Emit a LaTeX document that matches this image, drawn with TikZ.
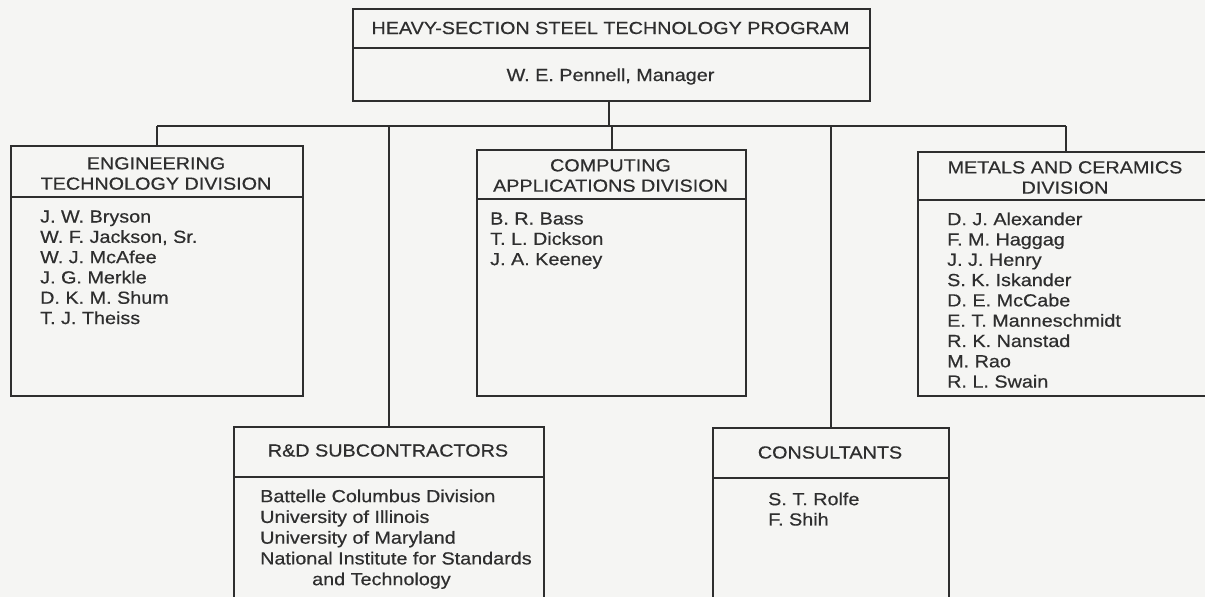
\documentclass[tikz,border=0pt]{standalone}
\usepackage{fontspec}
\setmainfont{Liberation Sans}[FakeStretch=1.13,FakeBold=0.5]
\definecolor{ink}{HTML}{2E2E2E}
\definecolor{paper}{HTML}{F5F5F3}
\begin{document}
\begin{tikzpicture}[x=1pt,y=-1pt,
  box/.style={draw=ink, line width=2pt, inner sep=0pt, anchor=north west},
  rule/.style={draw=ink, line width=1.5pt},
  conn/.style={draw=ink, line width=2pt},
  head/.style={text=ink, inner sep=0pt, align=center, font=\fontsize{17.5}{20.3}\selectfont},
  list/.style={text=ink, inner sep=0pt, align=left, anchor=north west, font=\fontsize{17.5}{20.3}\selectfont}]
\useasboundingbox (0,0) rectangle (1205,597);
\clip (0,0) rectangle (1205,597);
\fill[paper] (0,0) rectangle (1205,597);

% boxes
\node[box, minimum width=517pt, minimum height=92pt] (top) at (352,8) {};
\node[box, minimum width=292pt, minimum height=250pt] (etd) at (10,145) {};
\node[box, minimum width=269pt, minimum height=246pt] (cad) at (476,149) {};
\node[box, minimum width=296pt, minimum height=244pt] (mcd) at (917,151) {};
\node[box, minimum width=310pt, minimum height=200pt] (rd) at (233,426) {};
\node[box, minimum width=236pt, minimum height=200pt] (con) at (712,427) {};

% dividers
\draw[rule] (top.west |- 0,48) -- (top.east |- 0,48);
\draw[rule] (etd.west |- 0,197) -- (etd.east |- 0,197);
\draw[rule] (cad.west |- 0,199) -- (cad.east |- 0,199);
\draw[rule] (mcd.west |- 0,200) -- (mcd.east |- 0,200);
\draw[rule] (rd.west |- 0,477) -- (rd.east |- 0,477);
\draw[rule] (con.west |- 0,478) -- (con.east |- 0,478);

% headers
\node[head] (toptitle) at (610.5,28) {HEAVY-SECTION STEEL TECHNOLOGY PROGRAM};
\node[head, anchor=base] (topmgr) at (610.5,81) {W. E. Pennell, Manager};
\node[head] (etdh) at (156,173.5) {ENGINEERING\\TECHNOLOGY DIVISION};
\node[head] (cadh) at (610.5,175.5) {COMPUTING\\APPLICATIONS DIVISION};
\node[head] (mcdh) at (1065,177.5) {METALS AND CERAMICS\\DIVISION};
\node[head] (rdh) at (388,450.5) {R\&D SUBCONTRACTORS};
\node[head] (conh) at (830,452.5) {CONSULTANTS};

% lists
\node[list] (etdl) at (40,210.3) {J. W. Bryson\\W. F. Jackson, Sr.\\W. J. McAfee\\J. G. Merkle\\D. K. M. Shum\\T. J. Theiss};
\node[list] (cadl) at (490,212.3) {B. R. Bass\\T. L. Dickson\\J. A. Keeney};
\node[list] (mcdl) at (947,212.3) {D. J. Alexander\\F. M. Haggag\\J. J. Henry\\S. K. Iskander\\D. E. McCabe\\E. T. Manneschmidt\\R. K. Nanstad\\M. Rao\\R. L. Swain};
\node[list, font=\fontsize{17.5}{20.75}\selectfont] (rdl) at (260,489.3) {Battelle Columbus Division\\University of Illinois\\University of Maryland\\National Institute for Standards\\\hspace*{52pt}and Technology};
\node[list] (conl) at (768,492.3) {S. T. Rolfe\\F. Shih};

% connectors
\coordinate (bus) at (0,126);
\draw[conn] ([xshift=-2.5pt]top.south) -- ([xshift=-2.5pt]top.south |- bus);
\draw[conn] (etd.north |- bus) -- (mcd.north |- bus);
\draw[conn] (etd.north |- bus) -- (etd.north);
\draw[conn] (cad.north |- bus) -- (cad.north);
\draw[conn] (mcd.north |- bus) -- (mcd.north);
\draw[conn] (rd.north |- bus) -- (rd.north);
\draw[conn] (con.north |- bus) -- (con.north);
\end{tikzpicture}
\end{document}
